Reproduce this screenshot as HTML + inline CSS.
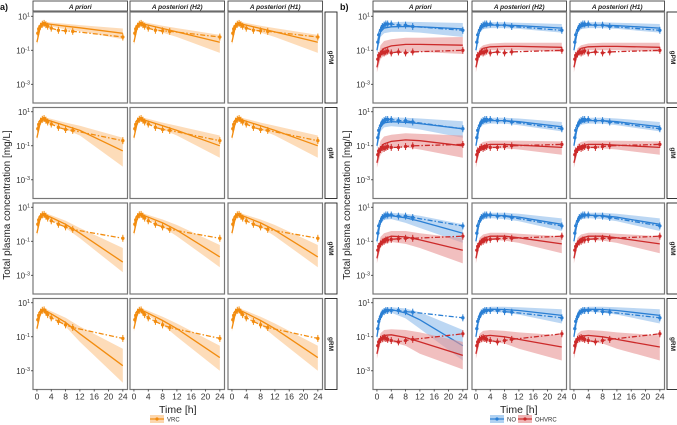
<!DOCTYPE html>
<html><head><meta charset="utf-8"><style>
html,body{margin:0;padding:0;background:#fff;}
svg{display:block;font-family:"Liberation Sans",sans-serif;}
</style></head><body>
<svg id="chart" width="677" height="425" viewBox="0 0 677 425" xmlns="http://www.w3.org/2000/svg"></svg>
<script>
const cols=["A priori","A posteriori (H2)","A posteriori (H1)"];
const rows=["gPM","gIM","gNM","gRM"];
const xTicks=[0,4,8,12,16,20,24];
const yTicks=[1,-1,-3];
const obsT=[0.25,0.5,1,1.5,2,2.5,3,4,6,8,10,24];
const predT=[0,1,2,4,8,12,24];
const vrcObs=[
[1.0,1.8,2.6,3.4,3.8,3.2,2.6,2.0,1.5,1.4,1.3,0.6],
[1.0,1.8,2.8,3.6,4.0,3.2,2.5,1.9,1.2,0.9,0.8,0.2],
[1.0,1.8,2.8,3.6,3.8,3.0,2.3,1.6,1.0,0.7,0.5,0.15],
[1.0,1.8,2.8,3.6,3.8,2.8,2.0,1.3,0.8,0.5,0.35,0.08]];
const vrcMid=[
[[0.3,2.6,3.8,3.3,2.6,2.1,1.0],[0.3,2.6,3.8,3.0,1.9,1.2,0.3]],
[[0.3,2.6,3.8,2.8,1.5,0.8,0.05],[0.3,2.6,3.8,2.8,1.5,0.8,0.1]],
[[0.3,2.6,3.8,2.5,1.0,0.3,0.006],[0.3,2.6,3.8,2.6,1.2,0.45,0.012]],
[[0.3,2.6,3.8,2.2,0.7,0.15,0.002],[0.3,2.6,3.8,2.4,0.9,0.3,0.006]]];
const vrcLo=[
[[0.2,1.8,2.8,2.4,1.7,1.3,0.45],[0.2,1.8,2.8,2.1,1.1,0.6,0.07]],
[[0.2,1.8,2.8,2.0,0.9,0.4,0.006],[0.2,1.8,2.8,2.0,0.9,0.4,0.02]],
[[0.2,1.8,2.8,1.8,0.6,0.15,0.0015],[0.2,1.8,2.8,1.9,0.7,0.2,0.003]],
[[0.2,1.8,2.8,1.5,0.4,0.05,0.0002],[0.2,1.8,2.8,1.7,0.5,0.1,0.001]]];
const vrcHi=[
[[0.45,3.4,4.8,4.3,3.6,3.0,1.9],[0.45,3.4,4.8,4.0,2.8,2.0,0.8]],
[[0.45,3.4,4.8,3.8,2.3,1.5,0.3],[0.45,3.4,4.8,3.8,2.3,1.5,0.4]],
[[0.45,3.4,4.8,3.4,1.6,0.6,0.04],[0.45,3.4,4.8,3.5,1.9,0.9,0.06]],
[[0.45,3.4,4.8,3.2,1.3,0.4,0.02],[0.45,3.4,4.8,3.3,1.5,0.6,0.03]]];
const noObs=[
[0.3,0.8,1.5,2.5,3,3.5,3.5,3.5,3,3,2.5,1.5],
[0.3,0.8,1.5,2.5,3,3.5,3.5,3.5,3,3,2.5,1.0],
[0.3,0.8,1.5,2.5,3,3.5,3.5,3.5,3,3,2.5,0.8],
[0.3,0.8,1.5,2.5,3,3.5,3.5,3.5,3.5,3,2.8,1.3]];
const ohObs=[
[0.03,0.05,0.06,0.08,0.07,0.08,0.09,0.07,0.08,0.07,0.08,0.1],
[0.03,0.05,0.06,0.08,0.07,0.08,0.09,0.08,0.08,0.09,0.1,0.12],
[0.03,0.05,0.07,0.09,0.1,0.12,0.12,0.13,0.14,0.15,0.15,0.2],
[0.03,0.05,0.07,0.08,0.09,0.08,0.07,0.06,0.05,0.06,0.07,0.15]];
const noMid=[
[[0.1,1.2,2.0,2.4,2.5,2.4,1.8],[0.1,1.5,2.5,3.0,3.0,2.8,2.0]],
[[0.1,1.3,2.2,2.6,2.4,2.0,1.0],[0.1,1.5,2.5,3.0,3.0,2.6,1.3]],
[[0.1,1.6,2.8,3.2,2.4,1.5,0.3],[0.1,1.6,2.8,3.4,3.2,2.6,1.0]],
[[0.1,2.0,3.5,4.0,2.5,1.0,0.03],[0.1,2.0,3.5,4.2,4.0,3.5,1.8]]];
const noLo=[
[[0.05,0.6,1.0,1.2,1.2,1.1,0.6],[0.06,1.0,1.7,2.0,2.0,1.8,1.1]],
[[0.05,0.7,1.2,1.4,1.2,0.9,0.3],[0.06,1.0,1.7,2.0,2.0,1.6,0.7]],
[[0.05,1.0,1.8,2.0,1.2,0.6,0.08],[0.06,1.1,2.0,2.3,2.0,1.5,0.4]],
[[0.05,1.4,2.5,2.6,1.2,0.3,0.004],[0.06,1.4,2.5,2.9,2.6,2.0,0.6]]];
const noHi=[
[[0.2,2.4,3.8,4.5,4.8,4.6,4.0],[0.15,2.2,3.6,4.4,4.4,4.2,3.5]],
[[0.2,2.4,4.0,4.6,4.5,4.0,2.8],[0.15,2.2,3.6,4.4,4.4,4.0,2.5]],
[[0.2,2.6,4.2,4.8,4.2,3.2,1.0],[0.15,2.3,3.8,4.8,4.8,4.2,2.2]],
[[0.2,3.0,4.8,5.5,4.6,2.8,0.25],[0.15,2.8,4.6,5.8,5.8,5.4,4.2]]];
const ohMid=[
[[0.01,0.08,0.13,0.18,0.22,0.22,0.2],[0.01,0.08,0.13,0.16,0.17,0.17,0.15]],
[[0.01,0.08,0.13,0.18,0.22,0.2,0.1],[0.01,0.07,0.1,0.12,0.12,0.11,0.08]],
[[0.01,0.08,0.14,0.2,0.18,0.12,0.03],[0.01,0.09,0.15,0.2,0.2,0.16,0.07]],
[[0.01,0.08,0.12,0.13,0.09,0.05,0.008],[0.01,0.08,0.11,0.12,0.1,0.07,0.025]]];
const ohLo=[
[[0.005,0.03,0.05,0.07,0.08,0.08,0.06],[0.005,0.05,0.08,0.1,0.1,0.1,0.08]],
[[0.005,0.03,0.05,0.07,0.08,0.06,0.02],[0.005,0.04,0.06,0.07,0.07,0.06,0.03]],
[[0.005,0.04,0.07,0.09,0.07,0.04,0.005],[0.005,0.05,0.09,0.12,0.11,0.08,0.02]],
[[0.005,0.04,0.05,0.05,0.03,0.01,0.0012],[0.005,0.04,0.05,0.05,0.04,0.02,0.004]]];
const ohHi=[
[[0.02,0.2,0.35,0.45,0.55,0.55,0.6],[0.02,0.13,0.2,0.25,0.28,0.28,0.28]],
[[0.02,0.2,0.35,0.45,0.55,0.5,0.4],[0.02,0.12,0.17,0.2,0.2,0.2,0.18]],
[[0.02,0.18,0.3,0.4,0.4,0.3,0.15],[0.02,0.16,0.25,0.32,0.32,0.28,0.2]],
[[0.02,0.16,0.25,0.28,0.25,0.18,0.05],[0.02,0.15,0.22,0.25,0.22,0.18,0.12]]];

const NS="http://www.w3.org/2000/svg";
const svg=document.getElementById('chart');
function mk(tag,attrs,parent){const e=document.createElementNS(NS,tag);for(const k in attrs)e.setAttribute(k,attrs[k]);(parent||svg).appendChild(e);return e;}
const rowTop=[12,107.5,203,298.5], rowH=91;
const leftCols=[33,130,228], rightCols=[373,472,570], colW=94.5;
const xMin=-1.1,xMax=25.3,yMin=-4.1,yMax=1.25;
function sx(px,t){return px+(t-xMin)/(xMax-xMin)*colW;}
function sy(py,v){return py+rowH-(Math.log10(v)-yMin)/(yMax-yMin)*rowH;}
function pathD(px,py,ts,vs){return ts.map((t,i)=>(i?'L':'M')+sx(px,t).toFixed(1)+' '+sy(py,vs[i]).toFixed(1)).join(' ');}
function ribbon(px,py,lo,hi,fill){
 let d=pathD(px,py,predT,hi);
 for(let i=predT.length-1;i>=0;i--)d+=' L'+sx(px,predT[i]).toFixed(1)+' '+sy(py,lo[i]).toFixed(1);
 const r=mk('path',{d:d+' Z',fill:fill,'fill-opacity':0.6,stroke:'none'});
 
 
}
function series(px,py,obs,mid,lo,hi,col,rib,name){
 ribbon(px,py,lo,hi,rib);
 const l=mk('path',{d:pathD(px,py,predT,mid),fill:'none',stroke:col,'stroke-width':1.3});
 
 
 const o=mk('path',{d:pathD(px,py,obsT,obs),fill:'none',stroke:col,'stroke-width':1.3,'stroke-dasharray':'5 2 1.5 2'});
 
 
 obsT.forEach((t,i)=>{
  const x=sx(px,t),y=sy(py,obs[i]);
  const eb=mk('line',{x1:x,x2:x,y1:sy(py,obs[i]*1.6),y2:sy(py,obs[i]/1.6),stroke:col,'stroke-width':1});
  
  
  const c=mk('circle',{cx:x,cy:y,r:1.7,fill:col});
  
  
 });
}
function sup(x,y,e,anchor){
 const t=mk('text',{x:x,y:y,'font-size':8,fill:'#333','text-anchor':anchor||'end'});
 
 
 t.innerHTML='10<tspan dy="-3" font-size="5.5">'+e+'</tspan>';
}
const ORG='#F28C0F',ORG_R='#FBC48A',BLU='#2A7FD4',BLU_R='#8FBDEB',RED='#CC2A2A',RED_R='#E89494';
function block(colsX,side){
 colsX.forEach((px,c)=>{
  const s=mk('rect',{x:px,y:1,width:colW,height:10,fill:'#fff',stroke:'#444','stroke-width':0.9});
  
  
  const st=mk('text',{x:px+colW/2,y:8.8,'font-size':6.5,'font-weight':'bold','font-style':'italic','text-anchor':'middle',fill:'#222'});
  
  
  st.textContent=cols[c];
 });
 rows.forEach((rn,r)=>{
  const py=rowTop[r];
  colsX.forEach((px,c)=>{
   const bg=mk('rect',{x:px,y:py,width:colW,height:rowH,fill:'#fff',stroke:'#777','stroke-width':1.2});
   
   
   const v=c===0?0:1;
   if(side==='a'){
    series(px,py,vrcObs[r],vrcMid[r][v],vrcLo[r][v],vrcHi[r][v],ORG,ORG_R,'vrc');
   } else {
    series(px,py,noObs[r],noMid[r][v],noLo[r][v],noHi[r][v],BLU,BLU_R,'no');
    series(px,py,ohObs[r],ohMid[r][v],ohLo[r][v],ohHi[r][v],RED,RED_R,'ohvrc');
   }
   if(r===3){
    xTicks.forEach(t=>{
     const x=sx(px,t);
     mk('line',{x1:x,x2:x,y1:py+rowH,y2:py+rowH+2,stroke:'#333','stroke-width':0.8});
     const tl=mk('text',{x:x,y:py+rowH+10,'font-size':8.5,'text-anchor':'middle',fill:'#333'});
     
     
     tl.textContent=t;
    });
   }
  });
  const px0=colsX[0];
  yTicks.forEach(e=>{
   const y=sy(py,Math.pow(10,e));
   mk('line',{x1:px0-2,x2:px0,y1:y,y2:y,stroke:'#333','stroke-width':0.8});
   sup(px0-3,y+3,e);
  });
  const sx0=colsX[2]+colW+2.5;
  const rs=mk('rect',{x:sx0,y:py,width:12,height:rowH,fill:'#fff',stroke:'#222','stroke-width':0.9});
  
  
  const rt=mk('text',{x:0,y:0,'font-size':6.5,'font-weight':'bold','text-anchor':'middle',fill:'#222',transform:'translate('+(sx0+4)+','+(py+rowH/2)+') rotate(90)'});
  
  
  rt.textContent=rn;
 });
 const cx=(colsX[0]+colsX[2]+colW)/2;
 const xt=mk('text',{x:cx,y:413,'font-size':10.5,'text-anchor':'middle',fill:'#222'});
 
 
 xt.textContent='Time [h]';
 const yt=mk('text',{x:0,y:0,'font-size':10,'text-anchor':'middle',fill:'#222',transform:'translate('+(colsX[0]-23)+',205) rotate(-90)'});
 
 
 yt.textContent='Total plasma concentration [mg/L]';
 const pl=mk('text',{x:colsX[0]-33,y:10,'font-size':9,'font-weight':'bold',fill:'#111'});
 
 
 pl.textContent=side+')';
}
block(leftCols,'a');
block(rightCols,'b');
function legendKey(x,col,rib,label){
 const r=mk('rect',{x:x,y:415,width:14,height:8,fill:rib,'fill-opacity':0.7});
 
 
 mk('line',{x1:x,x2:x+14,y1:419,y2:419,stroke:col,'stroke-width':1.2});
 mk('circle',{cx:x+7,cy:419,r:1.6,fill:col});
 const t=mk('text',{x:x+17,y:421.5,'font-size':6,fill:'#333'});
 
 
 t.textContent=label;
}
legendKey(150,ORG,ORG_R,'VRC');
legendKey(490,BLU,BLU_R,'NO');
legendKey(518,RED,RED_R,'OHVRC');
</script>
</body></html>
